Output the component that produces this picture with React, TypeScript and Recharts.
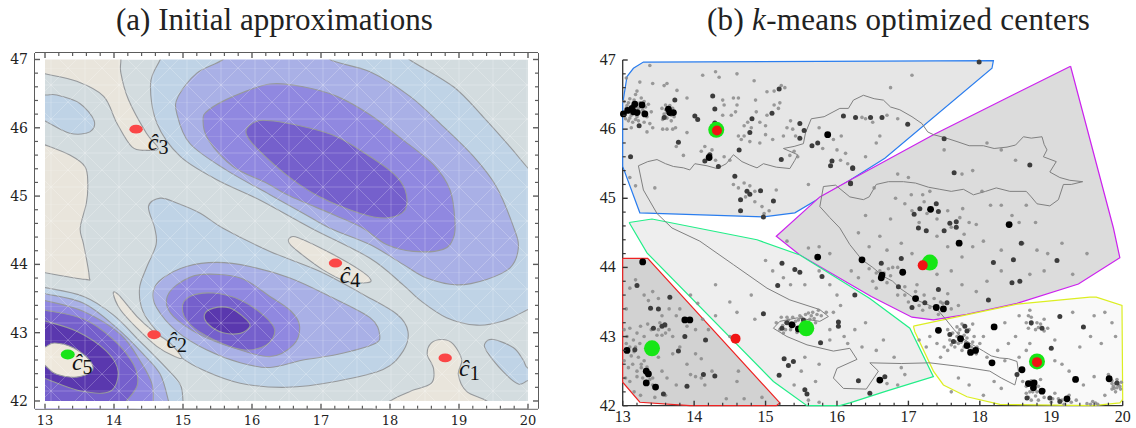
import { ScatterChart, Scatter, XAxis, YAxis } from 'recharts'

type Pt = [number, number]

const xTicks = [13, 13.2, 13.4, 13.6, 13.8, 14, 14.2, 14.4, 14.6, 14.8, 15, 15.2, 15.4, 15.6, 15.8, 16, 16.2, 16.4, 16.6, 16.8, 17, 17.2, 17.4, 17.6, 17.8, 18, 18.2, 18.4, 18.6, 18.8, 19, 19.2, 19.4, 19.6, 19.8, 20]
const yTicks = [42, 42.2, 42.4, 42.6, 42.8, 43, 43.2, 43.4, 43.6, 43.8, 44, 44.2, 44.4, 44.6, 44.8, 45, 45.2, 45.4, 45.6, 45.8, 46, 46.2, 46.4, 46.6, 46.8, 47]

const BEIGE = '#e9e5dc'
const GREY = '#d3dcdf'
const BLUE = '#bfd3e6'
const PERI = '#a9b0e6'
const PURPLE = '#9088e0'
const DARK = '#7560cc'
const DARKEST = '#5a38ae'

// contour bands of panel (a), lon/lat
const beigeTopLeft: Pt[] = [[12.7, 47.3], [12.7, 46.85], [13, 46.79], [13.46, 46.68], [13.85, 46.46], [14.04, 46.07], [14.26, 45.72], [14.47, 45.67], [14.64, 45.7], [14.47, 45.92], [14.21, 46.41], [14.1, 46.8], [14.1, 47], [14.1, 47.3]]
const beigeLeft: Pt[] = [[12.7, 45.85], [13, 45.75], [13.36, 45.6], [13.58, 45.43], [13.62, 45.19], [13.6, 44.9], [13.51, 44.53], [13.56, 44.29], [13.64, 43.83], [13.58, 43.78], [13, 43.88], [12.7, 43.95]]
const blueBlob: Pt[] = [[12.7, 46.5], [13, 46.48], [13.17, 46.48], [13.5, 46.36], [13.71, 46.11], [13.65, 45.94], [13.36, 45.92], [13, 46.1], [12.7, 46.25]]
const beigeC1: Pt[] = [[18, 42], [18.29, 42.14], [18.6, 42.26], [18.63, 42.48], [18.54, 42.68], [18.6, 42.85], [18.77, 42.9], [18.92, 42.83], [19.04, 42.6], [18.99, 42.39], [19.11, 42.14], [19.4, 42], [19.6, 41.8], [17.8, 41.8]]
const blueC1: Pt[] = [[19.38, 42.85], [19.5, 42.9], [19.79, 42.78], [19.93, 42.6], [20, 42.48], [20.25, 42.4], [20, 42.3], [19.86, 42.25], [19.64, 42.43], [19.4, 42.73]]
const blueUpper: Pt[] = [[14.8, 47.3], [14.67, 47], [14.53, 46.65], [14.62, 46.07], [14.96, 45.58], [15.49, 45.24], [16.12, 44.94], [16.86, 44.53], [17.71, 44.09], [18.19, 43.7], [18.43, 43.48], [18.82, 43.22], [19.26, 43.11], [19.64, 43.17], [20, 43.34], [20.3, 43.5], [20.3, 45.1], [20, 45.41], [19.74, 45.72], [19.35, 46.16], [18.92, 46.6], [18.28, 47], [17.9, 47.3]]
const periUpper: Pt[] = [[15.9, 47.3], [15.58, 47], [15.2, 46.8], [14.93, 46.46], [14.91, 46.21], [15.1, 45.77], [15.63, 45.38], [16.26, 45.02], [16.74, 44.75], [17.13, 44.53], [17.71, 44.29], [18.19, 44], [18.53, 43.8], [18.97, 43.7], [19.4, 43.78], [19.74, 43.95], [19.86, 44.24], [19.79, 44.55], [19.54, 45.14], [19.21, 45.58], [18.77, 46.02], [18.29, 46.46], [17.71, 46.82], [17.13, 47], [16.8, 47.3]]
const purpleUpper: Pt[] = [[16.26, 46.64], [15.73, 46.46], [15.37, 46.26], [15.29, 46.11], [15.37, 45.82], [15.73, 45.43], [16.21, 45.19], [16.55, 45], [17.2, 44.72], [17.61, 44.53], [17.95, 44.29], [18.34, 44.19], [18.77, 44.22], [18.92, 44.39], [18.94, 44.65], [18.87, 45.09], [18.63, 45.46], [18.19, 45.82], [17.71, 46.19], [17.23, 46.46], [16.74, 46.6]]
const darkUpper: Pt[] = [[16.16, 46.11], [15.95, 46.02], [15.92, 45.9], [16.07, 45.7], [16.55, 45.27], [16.98, 44.99], [17.56, 44.75], [17.95, 44.68], [18.22, 44.8], [18.22, 45.09], [18.05, 45.33], [17.71, 45.58], [17.23, 45.87], [16.74, 46.02]]
const blueMiddle: Pt[] = [[14.67, 44.97], [14.91, 44.9], [15.25, 44.75], [15.58, 44.53], [16.26, 44.19], [16.98, 43.9], [17.61, 43.56], [18.1, 43.27], [18.26, 43.02], [18.19, 42.73], [17.9, 42.46], [17.23, 42.29], [16.5, 42.2], [15.83, 42.26], [15.34, 42.43], [14.96, 42.65], [14.62, 43.02], [14.42, 43.31], [14.37, 43.65], [14.47, 43.95], [14.61, 44.29], [14.59, 44.53], [14.5, 44.85]]
const periMiddle: Pt[] = [[14.57, 43.61], [14.71, 43.8], [15.05, 43.97], [15.49, 44.03], [15.97, 43.97], [16.55, 43.8], [17.13, 43.53], [17.71, 43.22], [17.85, 42.97], [17.76, 42.83], [17.23, 42.68], [16.74, 42.6], [16.26, 42.49], [15.83, 42.56], [15.34, 42.75], [14.91, 43.02], [14.62, 43.36]]
const purpleMiddle: Pt[] = [[14.76, 43.48], [14.91, 43.7], [15.25, 43.85], [15.83, 43.8], [16.26, 43.53], [16.57, 43.31], [16.69, 43.09], [16.6, 42.82], [16.26, 42.65], [15.73, 42.78], [15.25, 42.97], [14.86, 43.24]]
const darkMiddle: Pt[] = [[14.99, 43.36], [15.1, 43.53], [15.44, 43.58], [15.83, 43.48], [16.16, 43.26], [16.33, 43.04], [16.21, 42.82], [15.87, 42.75], [15.44, 42.9], [15.1, 43.12]]
const darkestMiddle: Pt[] = [[15.31, 43.26], [15.44, 43.36], [15.68, 43.36], [15.92, 43.19], [15.97, 43.09], [15.83, 42.99], [15.58, 43], [15.37, 43.12]]
const beigeC2: Pt[] = [[13.99, 43.57], [14.06, 43.56], [14.33, 43.24], [14.57, 43.02], [14.81, 42.85], [14.98, 42.64], [14.88, 42.65], [14.62, 42.8], [14.33, 43.07], [14.09, 43.34]]
const beigeC4: Pt[] = [[16.55, 44.39], [16.67, 44.39], [17.13, 44.17], [17.56, 43.92], [17.72, 43.78], [17.66, 43.73], [17.37, 43.75], [17.03, 43.92], [16.69, 44.17], [16.54, 44.31]]
const blueLow: Pt[] = [[12.7, 43.7], [13, 43.66], [13.56, 43.53], [13.99, 43.26], [14.38, 42.87], [14.76, 42.48], [14.96, 42.24], [15, 42], [15, 41.92], [12.7, 41.92]]
const periLow: Pt[] = [[12.7, 43.62], [13, 43.57], [13.56, 43.43], [14.04, 43.07], [14.43, 42.68], [14.67, 42.39], [14.79, 42], [14.8, 41.92], [12.7, 41.92]]
const purpleLow: Pt[] = [[12.7, 43.52], [13, 43.47], [13.56, 43.31], [14.1, 42.97], [14.4, 42.55], [14.55, 42.25], [14.57, 42], [14.55, 41.92], [12.7, 41.92]]
const darkLow: Pt[] = [[12.7, 43.38], [13, 43.33], [13.56, 43.2], [13.99, 42.9], [14.28, 42.54], [14.34, 42.24], [14.18, 42], [14.1, 41.92], [12.7, 41.92]]
const darkestLow: Pt[] = [[12.7, 43.25], [13, 43.17], [13.46, 43.02], [13.89, 42.73], [14.06, 42.43], [13.94, 42.14], [13.5, 42.15], [13, 42.33], [12.7, 42.45]]
const eyeLow: Pt[] = [[12.8, 42.7], [13, 42.79], [13.14, 42.85], [13.41, 42.78], [13.65, 42.59], [13.68, 42.44], [13.46, 42.35], [13.17, 42.39], [13, 42.52]]

const initialCenters: Pt[] = [[18.8, 42.63], [14.58, 42.97], [14.32, 45.98], [17.21, 44.02]]
const initialGreen: Pt[] = [[13.33, 42.68]]
const hatLabels = ['1', '2', '3', '4', '5']
const hatLabelPos: Pt[] = [[19, 42.36], [14.76, 42.77], [14.49, 45.67], [17.27, 43.73], [13.39, 42.45]]

// clusters of panel (b)
const blueCell: Pt[] = [[13, 46.37], [13.06, 46.76], [13.15, 46.88], [13.29, 46.97], [18.19, 46.99], [18.17, 46.88], [16.67, 45.58], [16.18, 45.26], [15.41, 44.79], [14.97, 44.73], [13.24, 44.79], [13, 45.46], [13, 46.37]]
const magentaCell: Pt[] = [[19.27, 46.91], [19.87, 44.57], [19.96, 44.14], [19.38, 43.76], [18.52, 43.48], [17.82, 43.32], [17.35, 43.24], [17.05, 43.28], [16.48, 43.58], [15.48, 44.18], [15.15, 44.45], [15.76, 45.02], [16.18, 45.26], [17.35, 45.92], [19.27, 46.91]]
const greenCell: Pt[] = [[13.09, 44.65], [13.41, 44.7], [14.88, 44.4], [15.48, 44.18], [16.46, 43.55], [17.02, 43.12], [17.35, 42.42], [16.69, 42.21], [16.18, 42.04], [16.04, 42], [15.58, 42], [15.11, 42.35], [13.34, 44.21], [13.09, 44.65]]
const redCell: Pt[] = [[13, 44.13], [13.35, 44.13], [15.2, 42.04], [15.15, 42], [13.94, 42], [13.24, 42.05], [13, 42.34], [13, 44.13]]
const yellowCell: Pt[] = [[17.07, 43.15], [18.52, 43.47], [19.54, 43.57], [19.63, 43.57], [19.99, 43.45], [20, 42.09], [19.96, 42.04], [19.59, 42], [18.28, 42.02], [17.82, 42.13], [17.49, 42.3], [17.35, 42.5], [17.09, 43.07], [17.07, 43.15]]

const borderNorth: Pt[] = [[13.22, 45.47], [13.35, 45.53], [13.48, 45.56], [13.6, 45.5], [13.71, 45.46], [13.85, 45.44], [13.94, 45.41], [14.01, 45.5], [14.18, 45.47], [14.32, 45.43], [14.45, 45.5], [14.55, 45.63], [14.67, 45.53], [14.78, 45.48], [14.88, 45.44], [14.97, 45.5], [15.15, 45.45], [15.34, 45.43], [15.41, 45.55], [15.45, 45.63], [15.25, 45.72], [15.4, 45.75], [15.53, 45.79], [15.56, 45.95], [15.64, 46.15], [15.82, 46.18], [16.04, 46.3], [16.16, 46.3], [16.23, 46.42], [16.37, 46.49], [16.52, 46.44], [16.65, 46.42], [16.75, 46.32], [16.88, 46.28], [17.05, 46.18], [17.19, 46.08], [17.27, 45.96], [17.35, 45.92], [17.5, 45.88], [17.68, 45.82], [17.85, 45.76], [18.05, 45.76], [18.2, 45.72], [18.38, 45.74], [18.5, 45.77], [18.61, 45.89], [18.72, 45.87], [18.87, 45.89], [18.9, 45.78], [18.94, 45.7], [18.89, 45.6], [19.07, 45.53], [18.98, 45.38], [19.12, 45.3], [19.26, 45.26], [19.44, 45.24], [19.28, 45.2], [19.17, 45.2], [19.1, 44.98], [18.98, 44.89], [18.8, 44.92], [18.72, 45.02], [18.65, 45.1], [18.42, 45.1], [18.23, 45.15], [18.08, 45.1], [17.91, 45.05], [17.77, 45.13], [17.6, 45.1], [17.44, 45.13], [17.28, 45.16], [17.1, 45.22], [16.93, 45.24], [16.72, 45.24], [16.55, 45.2], [16.45, 45.02], [16.37, 44.98], [16.18, 45.02], [15.98, 45.19], [15.81, 45.17], [15.76, 44.88], [15.9, 44.72], [16.04, 44.57], [16.18, 44.33], [16.35, 44.11], [16.5, 44], [16.65, 43.87], [16.78, 43.8], [16.88, 43.7], [17.02, 43.6], [17.11, 43.53], [17.25, 43.47], [17.39, 43.41], [17.53, 43.24], [17.64, 43.1], [17.75, 42.98], [17.9, 42.88], [18.05, 42.79], [18.16, 42.72], [18.28, 42.69], [18.4, 42.68], [18.52, 42.64], [18.54, 42.5], [18.49, 42.3], [18.3, 42.4], [18.14, 42.5], [17.7, 42.57], [17.3, 42.62], [16.9, 42.61], [16.46, 42.62], [16.58, 42.5], [16.41, 42.24], [16.09, 42.25], [15.95, 42.4], [16, 42.54], [16.28, 42.67], [16.18, 42.83], [15.95, 42.79], [15.58, 42.88], [15.3, 43], [15.11, 43.12], [15.2, 43.22], [15.44, 43.27], [15.76, 43.22], [15.88, 43.29], [15.76, 43.39], [15.34, 43.53], [15.02, 43.7], [14.55, 44.04], [14.08, 44.38], [13.69, 44.57], [13.48, 44.78], [13.29, 45.12], [13.22, 45.47]]

const greyPoints: Pt[] = [
  [13.02, 46.4], [13.05, 46.3], [13.08, 46.38], [13.1, 46.44], [13.12, 46.2], [13.14, 46.35], [13.16, 46.42], [13.18, 46.5], [13.2, 46.18], [13.22, 46.3], [13.24, 46.38], [13.26, 46.45], [13.28, 46.28], [13.3, 46.4], [13.32, 46.32], [13.34, 46.18], [13.36, 46.36], [13.04, 46.15], [13.08, 46.12], [13.14, 46.1], [13.22, 46.12], [13.3, 46.1], [13.38, 46.08], [13.4, 46.25], [13.42, 46.02], [13.34, 45.96], [13.12, 46.02],
  [13.55, 46.3], [13.58, 46.22], [13.6, 46.35], [13.62, 46.16], [13.66, 46.34], [13.7, 46.3], [13.72, 46.18], [13.56, 46.14], [13.6, 46.28], [13.68, 46.12], [13.62, 46], [13.7, 46], [13.74, 46.02], [13.56, 46],
  [13.24, 46.68], [13.38, 46.92], [13.42, 46.66], [13.58, 46.63], [13.62, 46.66], [13.76, 46.56], [13.9, 46.45], [13.05, 46.74], [13.2, 46.55], [14.12, 46.78], [14.3, 46.83], [14.35, 46.75], [14.6, 46.8], [14.84, 46.7], [14.86, 46.42], [15.02, 46.54], [15.12, 46.55], [15.22, 46.63], [15.27, 46.6], [15.2, 46.38], [14.4, 46.42], [14.42, 46.35], [14.55, 46.45], [14.62, 46.45], [14.6, 46.35], [14.58, 46.25], [14.52, 46.2], [14.4, 46.2], [14.7, 46.05], [14.75, 46.1], [14.8, 46.02], [14.87, 46.25], [14.92, 46.1], [15, 46.05], [15.02, 46.2], [15.12, 46.35], [15.18, 46.3], [15.3, 46.02], [15.35, 46.12], [15.38, 46], [15.42, 45.9], [15.25, 45.9], [15.1, 45.85], [15, 45.92], [14.92, 45.8], [14.78, 45.82], [14.66, 45.85], [14.7, 45.9], [14.62, 45.9], [14.15, 45.75], [14.1, 45.68], [14.25, 45.7], [14.3, 45.55], [14.42, 45.6], [14.5, 45.55], [13.75, 45.75], [13.9, 45.95], [13.85, 45.62], [13.1, 45.3], [13.18, 45.18], [13.45, 45.15], [15.4, 45.68], [15.34, 45.62], [15.45, 45.6], [15.75, 46.02], [15.8, 45.72], [15.95, 45.85], [16.06, 45.9], [16, 45.7], [16.12, 45.65], [16.05, 45.55], [14.55, 45.2], [14.62, 45.15], [14.7, 45.22], [14.78, 45.18], [14.85, 45.1], [14.72, 45.02], [14.85, 44.95], [14.95, 44.88], [15.05, 44.82], [14.98, 44.78], [15.15, 45.12], [15.6, 45.2], [16.15, 45.5], [16.35, 46.17], [16.4, 46.15], [16.5, 46.1], [16.7, 46.2], [16.85, 46.15], [16.75, 46.6], [17.05, 46.78], [16.55, 45.8], [16.6, 45.9], [16.4, 45.6],
  [16.85, 45.35], [17, 45.3], [16.52, 45.15], [17.04, 45.05], [16.82, 45], [16.95, 44.92], [17.2, 45.05], [17.3, 45.1], [17.75, 45.35], [18.03, 45.1], [17.76, 44.85], [18.15, 44.9], [18.3, 44.9], [18.45, 44.75], [18.55, 44.65], [18.65, 44.9], [18.78, 44.65], [18.1, 45.8], [18.3, 45.7], [18.5, 45.55], [17.5, 45.7], [17.9, 45.4], [17.05, 44.82], [17.22, 44.95], [17.26, 44.78], [17.4, 44.7], [17.55, 44.82], [17.6, 44.58], [17.72, 44.72], [17.85, 44.65], [17.95, 44.62], [17.78, 44.48], [17.15, 44.65], [16.75, 44.7], [16.4, 44.75], [16.3, 44.5], [16.45, 44.3], [16.6, 44.45], [16.7, 44.25], [16.9, 44.35], [17.05, 44.2], [17.4, 44.45], [17.55, 44.3], [17.75, 44.15], [17.9, 44.3], [18.05, 44.38], [18.3, 44.25], [18.6, 44.35], [18.8, 44.25], [18.95, 44.2], [19.15, 44.35], [19.5, 44.2], [19.3, 43.9], [18.9, 43.95], [18.7, 43.9], [18.3, 43.95], [18.1, 43.8], [17.95, 43.65], [17.75, 43.75], [17.6, 43.95], [17.4, 43.9], [16.78, 44],
  [16.2, 43.95], [16.3, 43.85], [16.45, 43.98], [16.5, 43.8], [16.6, 43.95], [16.7, 43.78], [16.75, 43.88], [16.85, 43.6], [16.95, 43.72], [17, 43.5], [17.1, 43.65], [17.15, 43.45], [17.22, 43.6], [17.3, 43.42], [17.45, 43.5], [17.55, 43.62], [17.6, 43.4], [17.7, 43.45], [16.55, 43.7], [15.9, 44.2], [15.75, 44.3], [15.3, 44.38], [15.6, 44.28],
  [13.05, 43.4], [13.1, 43.7], [13.18, 43.82], [13.3, 43.6], [13.36, 43.52], [13.42, 43.65], [13.55, 43.3], [13.5, 43.55], [13.65, 43.4], [13.75, 43.3], [13.8, 43.4], [13.9, 43.15], [14.02, 43.1], [13.02, 43.1], [13.06, 43], [13.1, 43.12], [13.15, 42.95], [13.2, 43.05], [13.25, 43.15], [13.3, 43], [13.35, 43.18], [13.4, 43.1], [13.48, 43.02], [13.52, 43.2], [13.6, 43.05], [13.65, 43.1], [13.7, 43], [13.05, 42.9], [13.12, 42.72], [13.18, 42.85], [13.22, 42.7], [13.02, 42.65], [13.08, 42.55], [13.14, 42.6], [13.2, 42.5], [13.04, 42.4], [13.1, 42.35], [13.26, 42.6], [13.3, 42.65], [13.5, 42.7], [13.55, 42.5], [13.62, 42.4], [13.7, 42.75], [13.8, 42.85], [13.9, 42.6], [14.02, 42.75], [14.1, 42.68], [14.25, 42.5], [14.15, 42.3], [14.02, 42.42], [13.95, 42.45], [13.75, 42.3], [13.6, 42.15], [13.42, 42.4], [13.45, 42.12], [13.25, 42.15], [13.16, 42.2], [14.45, 42.1], [14.6, 42.35], [14.7, 42.1], [14.95, 42.12], [14.5, 43], [14.3, 43.3],
  [13.95, 43.6], [14.3, 43.75], [14.5, 43.5], [14.6, 43.35], [14.8, 43.6], [14.85, 43.25], [15, 44.1], [15.1, 43.95], [15.25, 43.85], [15.35, 43.75], [15.55, 43.75], [15.75, 43.95], [15.9, 43.75], [16, 43.6], [16.05, 43.45], [15.95, 43.35], [15.15, 43.2], [15.2, 43.1], [15.22, 43.28], [15.25, 43.05], [15.3, 43.28], [15.35, 43.1], [15.38, 43.28], [15.42, 43.22], [15.48, 43.3], [15.52, 43.18], [15.56, 43.32], [15.62, 43.25], [15.66, 43.35], [15.7, 43.2], [15.74, 43.38], [15.78, 43.3], [15.85, 43.35], [15.9, 43.1], [16.1, 43], [16.25, 43.1], [16.4, 43.2], [16.15, 42.9], [16.35, 42.85], [15.9, 42.95], [15.55, 42.7], [15.75, 42.6], [15.5, 42.5], [15.4, 42.3], [15.7, 42.35], [15.6, 42.08], [15.75, 42.05], [16.55, 42.8], [16.65, 42.95], [16.8, 42.7], [16.9, 42.55], [16.7, 42.32], [16.85, 42.3], [16.95, 42.45],
  [17.15, 42.95], [17.25, 42.85], [17.3, 43], [17.4, 42.9], [17.45, 42.7], [17.5, 42.85], [17.55, 43.1], [17.58, 42.95], [17.62, 43.05], [17.65, 42.85], [17.68, 43], [17.7, 42.9], [17.72, 43.1], [17.75, 42.8], [17.78, 43.02], [17.8, 42.92], [17.85, 43.1], [17.88, 42.85], [17.92, 43], [17.95, 42.75], [18, 42.9], [18.05, 43], [18.1, 42.7], [18.25, 42.8], [18.35, 42.65], [18.4, 42.9], [18.5, 43], [18.35, 43.2], [18.55, 43.3], [18.65, 43.2], [18.68, 43.12], [18.72, 43.28], [18.78, 43.1], [18.85, 43.18], [18.9, 43.25], [18.95, 43.12], [18.65, 42.8], [18.55, 42.7], [18.7, 42.9], [19.05, 42.65], [19.15, 42.6], [19.25, 42.5], [19.4, 42.85], [19.55, 43], [19.7, 42.9], [19.85, 43.2], [19.9, 43], [19.75, 43.35], [19.6, 43.3], [19.3, 43.35], [19.05, 42.95], [18.6, 42.35], [18.65, 42.28], [18.7, 42.2], [18.72, 42.36], [18.78, 42.14], [18.82, 42.28], [18.85, 42.38], [18.9, 42.12], [19, 42.05], [19.05, 42.18], [19.1, 42.1], [19.18, 42.02], [19.25, 42.15], [19.35, 42.08], [19.5, 42.03], [19.58, 42.06], [19.65, 42.02], [19.45, 42.3], [19.6, 42.42], [19.8, 42.45], [19.85, 42.32], [19.88, 42.25], [19.92, 42.38], [19.96, 42.28], [19.98, 42.34], [19.9, 42.2], [19.75, 42.15], [18.2, 42.35], [18.3, 42.25], [17.85, 42.3], [17.7, 42.4], [17.6, 42.2], [18.05, 42.15],
  [15.24, 43.16], [15.28, 43.1], [15.32, 43.24], [15.4, 43.16], [15.44, 43.06], [15.46, 43.24], [15.5, 43.28], [15.58, 43.2], [15.64, 43.3], [15.68, 43.26], [15.72, 43.32], [15.6, 43.34], [15.36, 43.2], [15.28, 43.2], [17.55, 42.8], [17.6, 42.88], [17.66, 42.92], [17.7, 43.05], [17.74, 42.92], [17.78, 42.85], [17.82, 42.98], [17.85, 42.8], [17.9, 42.92], [17.96, 42.85], [17.68, 43.14], [17.75, 43.18], [17.9, 43.18], [18.65, 42.18], [18.68, 42.12], [18.74, 42.2], [18.8, 42.2], [18.72, 42.08], [18.82, 42.08], [18.9, 42.22], [19.02, 42.1], [19.15, 42.08], [19.28, 42.05], [19.85, 42.36], [19.87, 42.28], [19.9, 42.32], [19.94, 42.3], [19.97, 42.24], [19.92, 42.26], [19.85, 42.24], [19.55, 42.02], [19.62, 42.04], [13.12, 46.28], [13.18, 46.32], [13.24, 46.25], [13.3, 46.25], [13.06, 46.34], [13.1, 46.16], [13.18, 46.14], [13.62, 46.24], [13.68, 46.2], [13.6, 46.18], [13.2, 42.42], [13.26, 42.55], [13.34, 42.56], [13.38, 42.38], [13.28, 42.4], [13.42, 42.3], [13.16, 42.78], [13.24, 42.9], [13.1, 42.85], [13.5, 43.1], [13.55, 43.02], [13.6, 43.15], [16.55, 43.92], [16.66, 43.92], [16.72, 43.98], [17.42, 43.32], [17.2, 43.38], [17.48, 43.48], [17.36, 43.55], [16.95, 43.6], [17.12, 43.75], [16.85, 44], [18.72, 43.18], [18.8, 43.2], [18.82, 43.13], [18.9, 43.08], [18.68, 43.3], [18.7, 43.38], [14.62, 42.5], [14.1, 42.4], [14.05, 43.48], [14.12, 43.25], [14.2, 43.1],
]

const darkPoints: Pt[] = [
  [14.26, 46.48], [14.29, 46.29], [14.29, 46.09], [13.78, 45.81], [13.11, 45.6], [13.23, 46.05], [13.73, 46.42], [14.01, 46.19], [14.05, 46.14], [13.58, 46.17], [15.19, 46.58], [14.81, 46.15], [15.09, 46.23], [14.78, 45.95], [15.48, 46.08], [15.54, 45.98], [15.48, 45.87], [14.63, 45.7], [14.34, 45.46], [15.22, 45.56], [15.65, 45.76], [15.73, 45.8], [15.93, 45.54], [15.91, 45.47], [16.22, 45.44], [16.19, 45.22], [16.09, 46.19], [16.26, 46.17], [14.57, 45.32], [14.74, 45.1], [14.78, 45.06], [14.93, 45.11], [15.11, 44.96], [14.65, 44.98], [14.65, 44.82], [14.97, 44.73], [14.15, 45.54], [14.22, 45.63],
  [17.99, 46.97], [16.47, 46.17], [16.63, 46.17], [16.99, 46.07], [17.5, 45.86], [16.22, 45.43], [17.64, 45.37], [18.7, 45.48], [16.19, 45.21], [17.16, 44.85], [17.39, 44.92], [17.42, 44.81], [17.08, 44.77], [17.58, 44.64], [17.67, 44.66], [17.67, 44.58], [17.25, 44.53], [17.14, 44.57], [17.5, 44.53],
  [13.66, 43.57], [13.5, 43.4], [13.39, 43.41], [13.2, 43.74], [13.43, 43.12], [13.55, 43.15], [13.59, 43.17], [13.87, 43], [14.16, 42.95], [13.78, 42.79], [13.17, 42.81], [13.9, 42.28], [14.13, 42.45], [14.29, 42.43], [13.57, 42.17], [14.97, 43.33], [15.23, 44.06], [15.17, 43.74], [15.41, 43.97], [15.48, 43.93], [15.79, 43.87], [16.02, 43.21], [16.02, 43.15], [15.77, 42.91], [15.26, 42.68], [15.39, 42.64], [15.32, 42.58], [15.19, 42.44], [15.55, 42.23], [15.58, 42.17], [16.3, 42.36], [16.25, 43.6], [15.23, 43.12], [15.3, 43.2], [15.53, 43.24],
  [16.62, 44.06], [16.9, 44.13], [16.86, 43.72], [17.42, 43.68], [17.05, 43.42], [17.23, 43.49], [17.54, 43.49], [18.12, 43.53], [18.19, 44.07], [18.47, 44.11], [18.58, 44.35], [19.08, 44.1], [18.45, 43.78], [18.56, 43.8], [17.79, 43.15], [17.82, 43.08], [17.58, 43.03], [17.63, 42.93], [19.12, 43.29], [19.45, 43.14], [19, 42.83], [18.72, 43.2], [18.87, 43.12], [18.52, 42.45], [18.66, 42.11], [18.98, 42.11], [19.12, 42.06], [19.92, 42.33], [16.46, 42.18], [16.67, 42.42],
]

const blackPoints: Pt[] = [
  [13.01, 46.22], [13.07, 46.27], [13.13, 46.3], [13.17, 46.36], [13.27, 46.35], [13.15, 46.25], [13.2, 46.24], [13.31, 46.22], [13.64, 46.29], [13.66, 46.24], [13.71, 46.24], [14.21, 45.59], [15.87, 45.92], [18.41, 44.62], [17.31, 44.84],
  [13.28, 44.08], [13.06, 42.8], [13.87, 43.24], [13.94, 43.24], [13.33, 42.5], [13.36, 42.46], [13.33, 42.33], [13.46, 42.27], [15.37, 43.17], [15.46, 43.11], [15.73, 44.15], [16.35, 44.11],
  [16.63, 43.89], [16.62, 43.85], [16.92, 43.93], [17.1, 43.55], [17.39, 43.42], [17.49, 43.4], [17.71, 44.35], [17.42, 43.09], [18.2, 43.14], [17.73, 42.97], [17.82, 42.87], [17.87, 42.77], [17.94, 42.8], [18.17, 42.62], [18.59, 42.52], [18.68, 42.32], [18.76, 42.33], [18.75, 42.26], [18.87, 42.21], [19.22, 42.1], [19.34, 42.38], [19.81, 42.39], [16.6, 42.37],
]

const kmeansCenters: Pt[] = [[14.31, 45.99], [13.41, 42.83], [15.57, 43.12], [17.3, 44.07], [18.8, 42.64]]
const initialOnRight: Pt[] = [[14.32, 45.98], [14.58, 42.97], [17.2, 44.03], [18.8, 42.63]]

const rows = (pts: Pt[]) => pts.map(([x, y]) => ({ x, y }))
const NoPoint = () => null

// closed Catmull-Rom, so contours pass through the points
function smoothClosed(context: any) {
  let pts: number[][] = []
  return {
    areaStart() {},
    areaEnd() {},
    lineStart() { pts = [] },
    point(x: number, y: number) { pts.push([x, y]) },
    lineEnd() {
      const n = pts.length
      if (!n) return
      context.moveTo(pts[0][0], pts[0][1])
      for (let i = 0; i < n; i++) {
        const a = pts[(i - 1 + n) % n], b = pts[i], c = pts[(i + 1) % n], d = pts[(i + 2) % n]
        context.bezierCurveTo(b[0] + (c[0] - a[0]) / 6, b[1] + (c[1] - a[1]) / 6, c[0] - (d[0] - b[0]) / 6, c[1] - (d[1] - b[1]) / 6, c[0], c[1])
      }
      context.closePath()
    },
  }
}

const AX = { xAxisId: 'b', yAxisId: 'l' }

const contour = (key: string, pts: Pt[], fill: string) => (
  <Scatter key={key} {...AX} data={rows(pts)} shape={NoPoint} lineJointType={smoothClosed as any}
    line={{ fill, stroke: '#96999c', strokeWidth: 1.1 }} isAnimationActive={false} />
)
const flat = (key: string, pts: Pt[], fill: string, stroke = 'none', strokeWidth = 1) => (
  <Scatter key={key} {...AX} data={rows(pts)} shape={NoPoint}
    line={{ fill, stroke, strokeWidth }} isAnimationActive={false} />
)
const dots = (key: string, pts: Pt[], r: number, fill: string, opacity = 1, ry?: number) => (
  <Scatter key={key} {...AX} data={rows(pts)} isAnimationActive={false}
    shape={(p: any) => <ellipse cx={p.cx} cy={p.cy} rx={r} ry={ry ?? r} fill={fill} fillOpacity={opacity} />} />
)

const xTick = (side: number, labels: boolean, color: string, fontFamily: string, fontSize: number, major = 5, minor = 3) => (p: any) => {
  const v = p.payload.value
  const isMajor = Math.abs(v - Math.round(v)) < 1e-6
  return (
    <g>
      <line x1={p.x} x2={p.x} y1={p.y} y2={p.y + side * (isMajor ? major : minor)} stroke={color} strokeWidth={isMajor ? 1.4 : 1.2} />
      {labels && isMajor && <text x={p.x} y={p.y + 16} textAnchor="middle" fontFamily={fontFamily} fontSize={fontSize} fill="#222">{v}</text>}
    </g>
  )
}
const yTick = (side: number, labels: boolean, color: string, fontFamily: string, fontSize: number, major = 5, minor = 3) => (p: any) => {
  const v = p.payload.value
  const isMajor = Math.abs(v - Math.round(v)) < 1e-6
  return (
    <g>
      <line y1={p.y} y2={p.y} x1={p.x} x2={p.x + side * (isMajor ? major : minor)} stroke={color} strokeWidth={isMajor ? 1.4 : 1.2} />
      {labels && isMajor && <text x={p.x - 7} y={p.y + 5} textAnchor="end" fontFamily={fontFamily} fontSize={fontSize} fill="#222">{v}</text>}
    </g>
  )
}

const HatLabel = (p: any) => (
  <text x={p.cx} y={p.cy} fontFamily="Liberation Serif" fontSize={24} fill="#111">
    <tspan fontStyle="italic">{'c\u0302'}</tspan>
    <tspan dy={4} fontSize={20}>{hatLabels[p.index]}</tspan>
  </text>
)

const FRAME = '#5c5c5c'
const SERIF = 'Liberation Serif'
const LEFT_X: [number, number] = [12.855, 20.145]
const LEFT_Y: [number, number] = [41.887, 47.095]

function PanelA() {
  return (
    <ScatterChart width={560} height={428} margin={{ top: 52, left: 34, right: 21, bottom: 18.3 }}>
      <defs>
        <pattern id="mesh" width="34" height="34" patternUnits="userSpaceOnUse">
          <path d="M0 0H34M0 17H34M17 0V34M0 0L34 34M34 0L0 34" stroke="#fff" strokeOpacity="0.22" strokeWidth="1" fill="none" />
        </pattern>
      </defs>
      {flat('bg', [[13, 42], [20, 42], [20, 47], [13, 47]], GREY)}
      {contour('b1', beigeTopLeft, BEIGE)}
      {contour('b2', beigeLeft, BEIGE)}
      {contour('b3', beigeC1, BEIGE)}
      {contour('l1', blueBlob, BLUE)}
      {contour('l2', blueC1, BLUE)}
      {contour('l3', blueUpper, BLUE)}
      {contour('p1', periUpper, PERI)}
      {contour('p2', purpleUpper, PURPLE)}
      {contour('p3', darkUpper, DARK)}
      {contour('l4', blueMiddle, BLUE)}
      {contour('p4', periMiddle, PERI)}
      {contour('p5', purpleMiddle, PURPLE)}
      {contour('p6', darkMiddle, DARK)}
      {contour('p7', darkestMiddle, DARKEST)}
      {contour('b4', beigeC2, BEIGE)}
      {contour('b5', beigeC4, BEIGE)}
      {contour('q1', blueLow, BLUE)}
      {contour('q2', periLow, PERI)}
      {contour('q3', purpleLow, PURPLE)}
      {contour('q4', darkLow, DARK)}
      {contour('q5', darkestLow, DARKEST)}
      {contour('q6', eyeLow, '#eee8dc')}
      {flat('mesh', [[13, 42], [20, 42], [20, 47], [13, 47]], 'url(#mesh)')}
      {flat('m1', [[12.855, 41.887], [13, 41.887], [13, 47.095], [12.855, 47.095]], '#fff')}
      {flat('m2', [[20, 41.887], [20.145, 41.887], [20.145, 47.095], [20, 47.095]], '#fff')}
      {flat('m3', [[12.855, 47], [20.145, 47], [20.145, 47.095], [12.855, 47.095]], '#fff')}
      {flat('m4', [[12.855, 41.887], [20.145, 41.887], [20.145, 42], [12.855, 42]], '#fff')}
      {dots('init', initialCenters, 6.7, '#fb4646', 1, 4.4)}
      {dots('c5', initialGreen, 7, '#18e418', 1, 5)}
      <Scatter {...AX} data={rows(hatLabelPos)} shape={HatLabel} isAnimationActive={false} />
      <XAxis xAxisId="b" dataKey="x" type="number" domain={LEFT_X} allowDataOverflow ticks={xTicks} interval={0} height={1} orientation="bottom" tickSize={0} tickMargin={0}
        axisLine={{ stroke: FRAME, strokeWidth: 2 }} tickLine={false} tick={xTick(-1, true, FRAME, 'DejaVu Serif', 13)} />
      <XAxis xAxisId="t" dataKey="x" type="number" domain={LEFT_X} allowDataOverflow ticks={xTicks} interval={0} height={1} orientation="top" tickSize={0} tickMargin={0}
        axisLine={{ stroke: FRAME, strokeWidth: 2 }} tickLine={false} tick={xTick(1, false, FRAME, SERIF, 13)} />
      <YAxis yAxisId="l" dataKey="y" type="number" domain={LEFT_Y} allowDataOverflow ticks={yTicks} interval={0} width={1} orientation="left" tickSize={0} tickMargin={0}
        axisLine={{ stroke: FRAME, strokeWidth: 2 }} tickLine={false} tick={yTick(1, true, FRAME, 'DejaVu Serif', 14)} />
      <YAxis yAxisId="r" dataKey="y" type="number" domain={LEFT_Y} allowDataOverflow ticks={yTicks} interval={0} width={1} orientation="right" tickSize={0} tickMargin={0}
        axisLine={{ stroke: FRAME, strokeWidth: 2 }} tickLine={false} tick={yTick(-1, false, FRAME, SERIF, 13)} />
    </ScatterChart>
  )
}

function PanelB() {
  return (
    <ScatterChart width={566} height={428} margin={{ top: 60, left: 51.7, right: 13.3, bottom: 21.3 }}>
      {flat('blue', blueCell, '#e6e6e6', '#2a7dee', 1.2)}
      {flat('magenta', magentaCell, '#dcdcdc', '#cc22ee', 1.2)}
      {flat('green', greenCell, '#eeeeee', '#22ee88', 1.2)}
      {flat('red', redCell, '#d2d2d2', '#ee2222', 1.2)}
      {flat('yellow', yellowCell, '#f9f9f9', '#dcee22', 1.2)}
      {flat('border', borderNorth, 'none', '#808080', 1)}
      {dots('grey', greyPoints, 1.8, '#8a8a8a', 0.85)}
      {dots('dark', darkPoints, 2.5, '#3c3c3c')}
      {dots('black', blackPoints, 3.4, '#000')}
      {dots('centers', kmeansCenters, 8, '#16e616')}
      {dots('initial', initialOnRight, 5, '#f01414')}
      <XAxis xAxisId="b" dataKey="x" type="number" domain={[13, 20]} ticks={xTicks} interval={0} height={1} tickSize={0} tickMargin={0}
        axisLine={{ stroke: '#333', strokeWidth: 1.3 }} tickLine={false} tick={xTick(-1, true, '#333', SERIF, 16)} />
      <YAxis yAxisId="l" dataKey="y" type="number" domain={[42, 47]} ticks={yTicks} interval={0} width={1} tickSize={0} tickMargin={0}
        axisLine={{ stroke: '#333', strokeWidth: 1.3 }} tickLine={false} tick={yTick(1, true, '#333', SERIF, 16)} />
    </ScatterChart>
  )
}

const titleStyle = { position: 'absolute', top: 2, fontFamily: SERIF, fontSize: 31, lineHeight: '36px', color: '#222', whiteSpace: 'nowrap' } as const

export default function App() {
  return (
    <div style={{ position: 'absolute', left: 0, top: 0, width: 1136, height: 428, background: '#fff', overflow: 'hidden' }}>
      <div style={{ position: 'absolute', left: 0, top: 0 }}><PanelA /></div>
      <div style={{ position: 'absolute', left: 570, top: 0 }}><PanelB /></div>
      <div style={{ ...titleStyle, left: 116 }}>(a) Initial approximations</div>
      <div style={{ ...titleStyle, left: 707, letterSpacing: 0.3 }}>(b) <i>k</i>-means optimized centers</div>
    </div>
  )
}
